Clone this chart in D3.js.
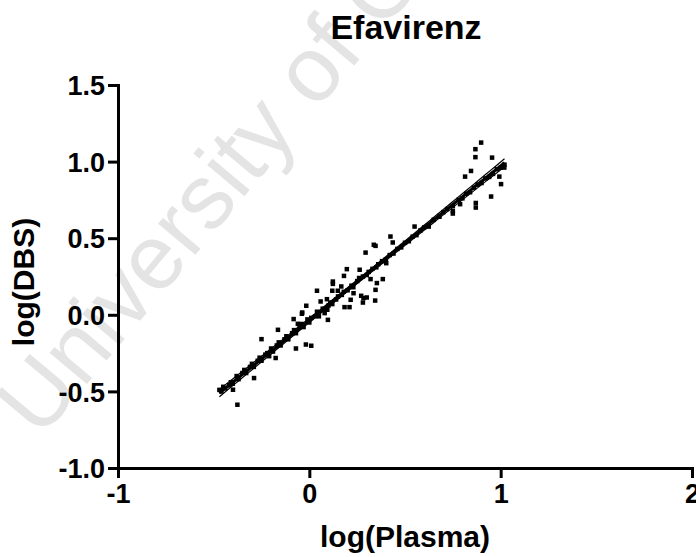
<!DOCTYPE html>
<html><head><meta charset="utf-8">
<script src="https://cdn.jsdelivr.net/npm/d3@7"></script>
<style>body{margin:0;background:#fff}svg{display:block}text{font-family:"Liberation Sans",Arial,Helvetica,sans-serif}</style>
</head><body>
<svg id="c" width="696" height="557"></svg>
<script>
const title = "Efavirenz";
const xLabel = "log(Plasma)";
const yLabel = "log(DBS)";
const watermark = "University of Cape Town";
const xTicks = [-1, 0, 1, 2];
const yTicks = [-1.0, -0.5, 0.0, 0.5, 1.0, 1.5];
// points close to the regression line
const xNear = [-0.47,-0.46,-0.45,-0.44,-0.42,-0.41,-0.40,-0.38,-0.37,-0.35,-0.34,-0.33,-0.31,-0.30,-0.29,-0.27,-0.26,-0.25,-0.23,-0.22,-0.21,-0.20,-0.19,-0.17,-0.16,-0.15,-0.13,-0.12,-0.11,-0.09,-0.08,-0.07,-0.05,-0.04,-0.03,-0.01,0.00,0.01,0.03,0.04,0.05,0.07,0.08,0.10,0.11,0.12,0.14,0.15,0.17,0.18,0.20,0.22,0.23,0.25,0.26,0.28,0.30,0.31,0.33,0.35,0.36,0.38,0.40,0.42,0.44,0.46,0.48,0.50,0.52,0.54,0.56,0.58,0.60,0.62,0.65,0.68,0.70,0.72,0.75,0.78,0.80,0.82,0.84,0.86,0.88,0.90,0.92,0.94,0.96,0.98,1.00,1.02];
const yNear = [-0.49,-0.50,-0.47,-0.48,-0.46,-0.44,-0.45,-0.40,-0.42,-0.38,-0.36,-0.38,-0.34,-0.32,-0.34,-0.30,-0.28,-0.30,-0.26,-0.25,-0.27,-0.22,-0.24,-0.20,-0.18,-0.20,-0.16,-0.14,-0.16,-0.12,-0.10,-0.12,-0.08,-0.06,-0.08,-0.03,-0.05,-0.02,-0.01,0.02,-0.01,0.04,0.03,0.06,0.08,0.07,0.10,0.12,0.13,0.15,0.16,0.19,0.18,0.22,0.24,0.25,0.26,0.28,0.30,0.31,0.33,0.35,0.36,0.39,0.40,0.43,0.44,0.47,0.48,0.51,0.52,0.55,0.57,0.58,0.62,0.64,0.67,0.69,0.71,0.75,0.76,0.79,0.80,0.83,0.85,0.86,0.89,0.90,0.92,0.95,0.96,0.98];
// scattered points
const xFar = [-0.376,-0.399,-0.289,-0.176,-0.25,-0.164,-0.082,-0.039,-0.018,0.01,-0.07,-0.06,-0.016,-0.037,0.04,0.059,0.092,0.094,0.08,0.097,0.12,0.149,0.123,0.123,0.167,0.181,0.196,0.216,0.184,0.21,0.231,0.263,0.271,0.283,0.30,0.28,0.294,0.32,0.337,0.346,0.344,0.346,0.353,0.384,0.402,0.424,0.436,0.55,0.624,0.75,0.788,0.87,0.87,0.898,0.868,0.868,0.955,0.845,0.814,1.019,0.993,1.002,0.95,0.75];
const yFar = [-0.587,-0.489,-0.413,-0.282,-0.159,-0.098,-0.028,0.007,-0.194,-0.202,-0.22,-0.059,0.059,0.015,0.157,0.087,0.102,0.033,0.011,-0.033,0.157,0.157,0.217,0.202,0.185,0.254,0.298,0.098,0.05,0.05,0.141,0.294,0.124,0.109,0.113,0.08,0.406,0.233,0.457,0.45,0.093,0.163,0.207,0.233,0.337,0.511,0.472,0.576,0.576,0.678,0.722,0.73,0.70,1.124,1.081,1.029,1.026,0.939,0.902,0.961,0.902,0.853,0.772,0.661];

const xs = xNear.concat(xFar), ys = yNear.concat(yFar);
const svg = d3.select("#c");
const x = d3.scaleLinear().domain([-1, 2]).range([118, 692]);
const y = d3.scaleLinear().domain([-1, 1.5]).range([468, 85]);
const hy = f => v => f(v).replace("\u2212", "-");

// watermark
svg.append("text").attr("transform","translate(40,440) rotate(-50)")
  .attr("font-size",92).attr("fill","#e4e4e4").text(watermark);

// regression
const n = xs.length, mx = d3.mean(xs), my = d3.mean(ys);
let sxx=0, sxy=0; for(let i=0;i<n;i++){sxx+=(xs[i]-mx)**2; sxy+=(xs[i]-mx)*(ys[i]-my);}
const b = sxy/sxx, a = my-b*mx;
let sse=0; for(let i=0;i<n;i++){sse+=(ys[i]-a-b*xs[i])**2;}
const s = Math.sqrt(sse/(n-2)), t = 1.977;
const xr = d3.range(d3.min(xs), d3.max(xs)+1e-9, (d3.max(xs)-d3.min(xs))/60);
const band = k => xr.map(v => [v, a+b*v + k*t*s*Math.sqrt(1/n + (v-mx)**2/sxx)]);
const ln = d3.line().x(d=>x(d[0])).y(d=>y(d[1]));

// points
svg.append("g").selectAll("rect").data(xs.map((v,i)=>[v,ys[i]])).join("rect")
  .attr("x",d=>x(d[0])-2.25).attr("y",d=>y(d[1])-2.25).attr("width",4.5).attr("height",4.5).attr("fill","#000");

svg.append("path").datum(band(0)).attr("d",ln).attr("stroke","#000").attr("stroke-width",3).attr("fill","none");
svg.append("path").datum(band(1)).attr("d",ln).attr("stroke","#000").attr("stroke-width",1.2).attr("fill","none");
svg.append("path").datum(band(-1)).attr("d",ln).attr("stroke","#000").attr("stroke-width",1.2).attr("fill","none");

// axes
const xa = svg.append("g").attr("transform","translate(0,468)")
  .call(d3.axisBottom(x).tickValues(xTicks).tickFormat(hy(d3.format("d"))).tickSize(10).tickPadding(6));
const ya = svg.append("g").attr("transform","translate(118,0)")
  .call(d3.axisLeft(y).tickValues(yTicks).tickFormat(hy(d3.format(".1f"))).tickSize(10).tickPadding(3));
[xa,ya].forEach(g=>{
  g.select(".domain").attr("stroke","#000").attr("stroke-width",3);
  g.selectAll(".tick line").attr("stroke","#000").attr("stroke-width",3);
  g.selectAll(".tick text").attr("fill","#000").attr("font-size",27).attr("font-weight","bold")
   .attr("font-family","'Liberation Sans',Arial,sans-serif");
});
ya.selectAll(".tick text").attr("dy","0.36em");

svg.append("text").attr("x",406).attr("y",39).attr("text-anchor","middle")
  .attr("font-size",34).attr("font-weight","bold").text(title);
svg.append("text").attr("x",405).attr("y",547).attr("text-anchor","middle")
  .attr("font-size",30).attr("font-weight","bold").text(xLabel);
svg.append("text").attr("transform","translate(34,282) rotate(-90)").attr("text-anchor","middle")
  .attr("font-size",30).attr("font-weight","bold").text(yLabel);
</script>
</body></html>
